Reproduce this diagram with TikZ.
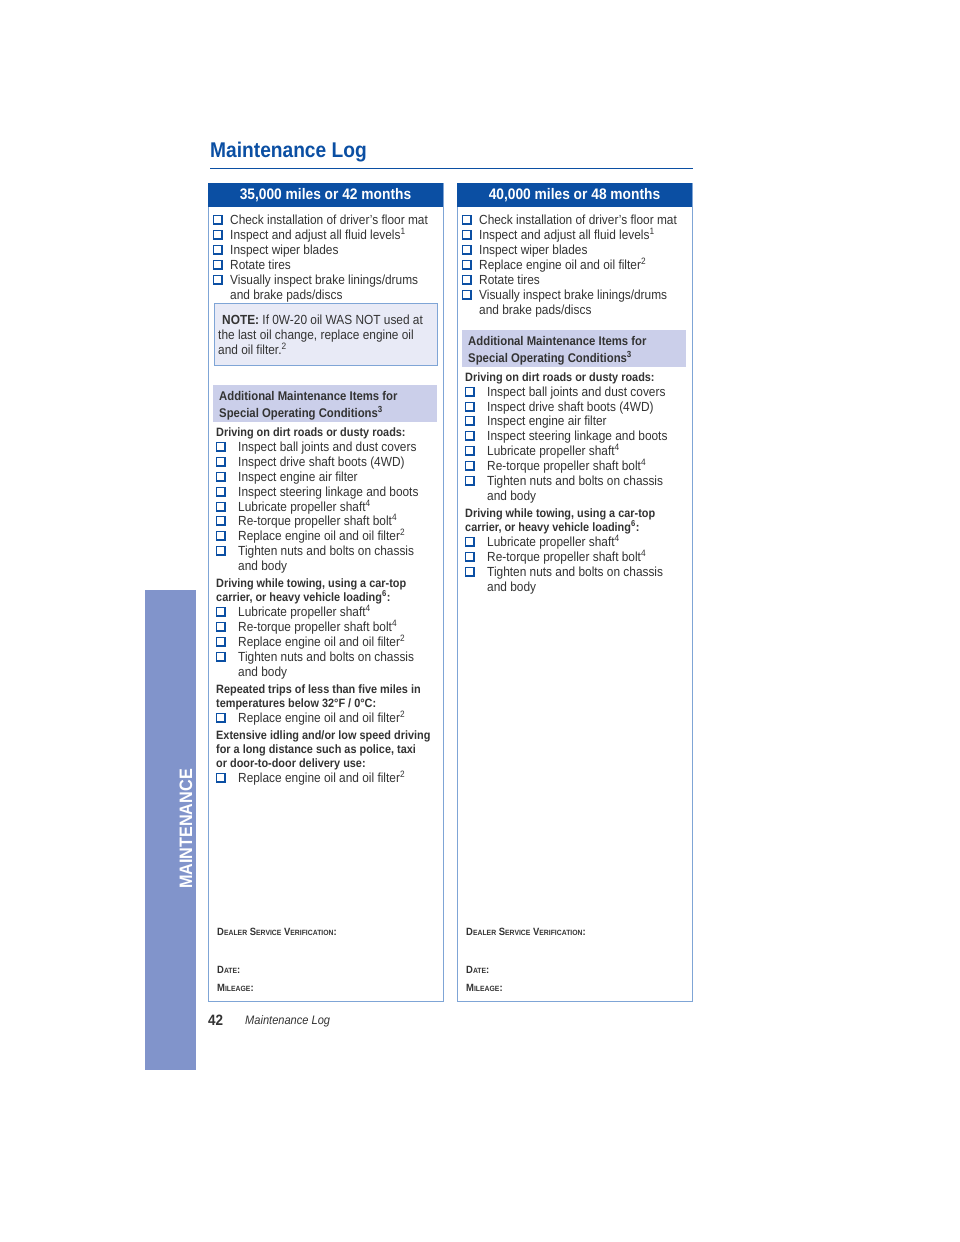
\documentclass[tikz,border=0pt]{standalone}
\usepackage{fontspec}
\setmainfont{Liberation Sans}[FakeStretch=0.9]
\definecolor{dblue}{HTML}{0B4FA3}
\definecolor{lblue}{HTML}{7FA5D6}
\definecolor{notefill}{HTML}{E8EAF6}
\definecolor{addfill}{HTML}{CBCFEA}
\definecolor{sidebar}{HTML}{8194CB}
\definecolor{txt}{HTML}{333333}
\tikzset{
 tx/.style={anchor=base west,inner sep=0pt,text=txt,font=\fontsize{13.2}{15}\selectfont},
 hd/.style={anchor=base west,inner sep=0pt,text=txt,font=\bfseries\fontsize{12.1}{14}\selectfont},
 ah/.style={anchor=base west,inner sep=0pt,text=txt,font=\bfseries\fontsize{12.6}{14}\selectfont},
 dl/.style={anchor=base west,inner sep=0pt,text=txt,font=\bfseries\fontsize{10.5}{12}\selectfont},
 cb/.style={draw=dblue,line width=1.1pt},
}
\newcommand{\mysc}[2]{#1{\fontsize{7.6}{9}\selectfont #2}}
\newcommand{\itA}[2]{\draw[cb] (213.5,#1-4.5) rectangle ++(8.5,8.5); \node[tx] at (230,#1+4) {#2};}
\newcommand{\itB}[2]{\draw[cb] (216.5,#1-4.5) rectangle ++(8.5,8.5); \node[tx] at (238,#1+4) {#2};}
\newcommand{\itC}[2]{\draw[cb] (462.5,#1-4.5) rectangle ++(8.5,8.5); \node[tx] at (479,#1+4) {#2};}
\newcommand{\itD}[2]{\draw[cb] (465.5,#1-4.5) rectangle ++(8.5,8.5); \node[tx] at (487,#1+4) {#2};}
\begin{document}
\begin{tikzpicture}[x=1pt,y=-1pt]
\useasboundingbox[fill=white] (0,0) rectangle (960,1242);
% title
\node[anchor=base west,inner sep=0pt,text=dblue,font=\bfseries\fontsize{21.3}{24}\selectfont] (title) at (210,157) {Maintenance Log};
\draw[dblue,line width=0.6pt] (210,168) -- (693,168);
% side bar
\fill[sidebar] (145,590) rectangle (196,1070);
\node[rotate=90,text=white,font=\bfseries\fontsize{18}{20}\selectfont,inner sep=0pt] (side) at (186,829) {MAINTENANCE};
% boxes
\foreach \x/\t in {208/{35,000 miles or 42 months},457/{40,000 miles or 48 months}}{
 \draw[lblue,line width=1pt] (\x,183) rectangle (\x+235,1001);
 \fill[dblue] (\x,183) rectangle (\x+235,207);
 \node[text=white,font=\bfseries\fontsize{15.3}{17}\selectfont,inner sep=0pt] at (\x+117.5,195.5) {\t};
}
% ---- left column
\itA{220}{Check installation of driver’s floor mat}
\itA{235}{Inspect and adjust all fluid levels\textsuperscript{1}}
\itA{250}{Inspect wiper blades}
\itA{265}{Rotate tires}
\itA{280}{Visually inspect brake linings/drums}
\node[tx] at (230,299) {and brake pads/discs};
\draw[lblue,fill=notefill,line width=1pt] (214,303) rectangle (437,365);
\node[tx] at (222,324) {\textbf{NOTE:} If 0W-20 oil WAS NOT used at};
\node[tx] at (218,339) {the last oil change, replace engine oil};
\node[tx] at (218,354) {and oil filter.\textsuperscript{2}};
\fill[addfill] (213,385) rectangle (437,422);
\node[ah] at (219,400) {Additional Maintenance Items for};
\node[ah] at (219,417) {Special Operating Conditions\textsuperscript{3}};
\node[hd] at (216,436) {Driving on dirt roads or dusty roads:};
\itB{447}{Inspect ball joints and dust covers}
\itB{462}{Inspect drive shaft boots (4WD)}
\itB{477}{Inspect engine air filter}
\itB{492}{Inspect steering linkage and boots}
\itB{507}{Lubricate propeller shaft\textsuperscript{4}}
\itB{521}{Re-torque propeller shaft bolt\textsuperscript{4}}
\itB{536}{Replace engine oil and oil filter\textsuperscript{2}}
\itB{551}{Tighten nuts and bolts on chassis}
\node[tx] at (238,570) {and body};
\node[hd] at (216,587) {Driving while towing, using a car-top};
\node[hd] at (216,601) {carrier, or heavy vehicle loading\textsuperscript{6}:};
\itB{612}{Lubricate propeller shaft\textsuperscript{4}}
\itB{627}{Re-torque propeller shaft bolt\textsuperscript{4}}
\itB{642}{Replace engine oil and oil filter\textsuperscript{2}}
\itB{657}{Tighten nuts and bolts on chassis}
\node[tx] at (238,676) {and body};
\node[hd] at (216,693) {Repeated trips of less than five miles in};
\node[hd] at (216,707) {temperatures below 32°F / 0°C:};
\itB{718}{Replace engine oil and oil filter\textsuperscript{2}}
\node[hd] at (216,739) {Extensive idling and/or low speed driving};
\node[hd] at (216,753) {for a long distance such as police, taxi};
\node[hd] at (216,767) {or door-to-door delivery use:};
\itB{778}{Replace engine oil and oil filter\textsuperscript{2}}
\foreach \x in {217,466}{
 \node[dl] at (\x,935) {\mysc{D}{EALER} \mysc{S}{ERVICE} \mysc{V}{ERIFICATION}:};
 \node[dl] at (\x,973) {\mysc{D}{ATE}:};
 \node[dl] at (\x,991) {\mysc{M}{ILEAGE}:};
}
% ---- right column
\itC{220}{Check installation of driver’s floor mat}
\itC{235}{Inspect and adjust all fluid levels\textsuperscript{1}}
\itC{250}{Inspect wiper blades}
\itC{265}{Replace engine oil and oil filter\textsuperscript{2}}
\itC{280}{Rotate tires}
\itC{295}{Visually inspect brake linings/drums}
\node[tx] at (479,314) {and brake pads/discs};
\fill[addfill] (462,330) rectangle (686,367);
\node[ah] at (468,345) {Additional Maintenance Items for};
\node[ah] at (468,362) {Special Operating Conditions\textsuperscript{3}};
\node[hd] at (465,381) {Driving on dirt roads or dusty roads:};
\itD{392}{Inspect ball joints and dust covers}
\itD{407}{Inspect drive shaft boots (4WD)}
\itD{421}{Inspect engine air filter}
\itD{436}{Inspect steering linkage and boots}
\itD{451}{Lubricate propeller shaft\textsuperscript{4}}
\itD{466}{Re-torque propeller shaft bolt\textsuperscript{4}}
\itD{481}{Tighten nuts and bolts on chassis}
\node[tx] at (487,500) {and body};
\node[hd] at (465,517) {Driving while towing, using a car-top};
\node[hd] at (465,531) {carrier, or heavy vehicle loading\textsuperscript{6}:};
\itD{542}{Lubricate propeller shaft\textsuperscript{4}}
\itD{557}{Re-torque propeller shaft bolt\textsuperscript{4}}
\itD{572}{Tighten nuts and bolts on chassis}
\node[tx] at (487,591) {and body};
% footer
\node[anchor=base west,inner sep=0pt,text=txt,font=\bfseries\fontsize{15}{17}\selectfont] (pg) at (208,1025) {42};
\node[anchor=base west,inner sep=0pt,text=txt,font=\itshape\fontsize{12.3}{14}\selectfont] (pgl) at (245,1024) {Maintenance Log};
\end{tikzpicture}
\end{document}
